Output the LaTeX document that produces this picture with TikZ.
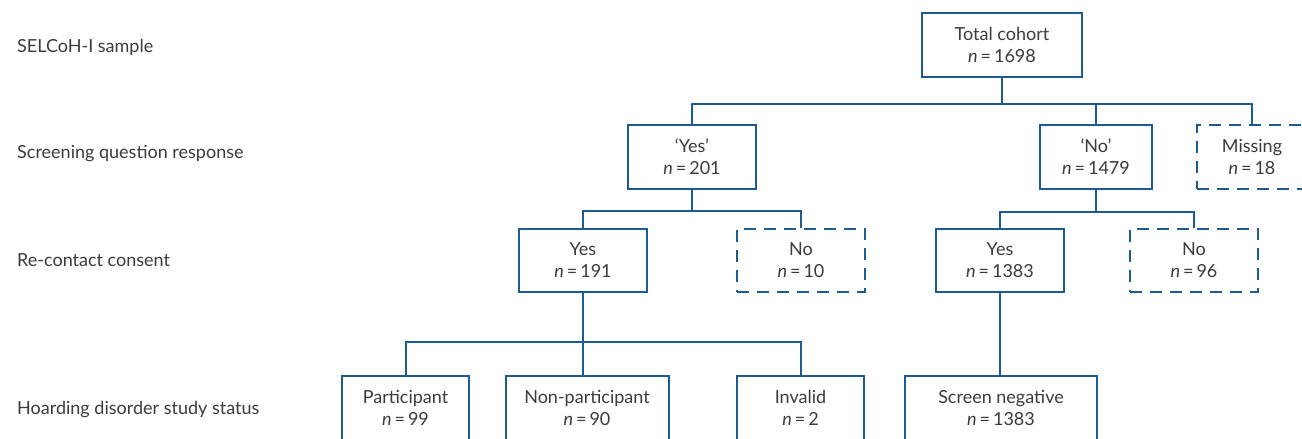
\documentclass[tikz,border=0pt]{standalone}
\usepackage{fontspec}
\setmainfont{Lato}
\definecolor{boxblue}{RGB}{28,92,146}
\definecolor{txtgray}{RGB}{60,60,60}
\begin{document}
\begin{tikzpicture}[x=1pt,y=-1pt,
  every node/.style={font=\fontsize{18}{22}\selectfont, text=txtgray},
  box/.style={draw=boxblue, line width=2pt, align=center, inner sep=0pt, minimum height=64pt},
  dbox/.style={box, dash pattern=on 12pt off 8pt},
  conn/.style={draw=boxblue, line width=2pt},
  lab/.style={anchor=west, inner sep=0pt}]
\clip (0,0) rectangle (1302,439);
\fill[white] (0,0) rectangle (1302,439);
% row labels
\node[lab] (l1) at (17,47) {SELCoH-I sample};
\node[lab] (l2) at (17,154) {Screening question response};
\node[lab] (l3) at (17,260) {Re-contact consent};
\node[lab] (l4) at (17,410) {Hoarding disorder study status};
% boxes
\node[box, minimum width=160pt] (total) at (1002,45) {Total cohort\\\textit{n}\,=\,1698};
\node[box, minimum width=128pt] (yesQ) at (692,157) {‘Yes’\\\textit{n}\,=\,201};
\node[box, minimum width=112pt] (noQ) at (1096,157) {‘No’\\\textit{n}\,=\,1479};
\node[dbox, minimum width=110pt] (miss) at (1252,157) {Missing\\\textit{n}\,=\,18};
\node[box, minimum width=128pt, minimum height=63pt] (yes191) at (583,260.5) {Yes\\\textit{n}\,=\,191};
\node[dbox, minimum width=128pt, minimum height=63pt] (no10) at (801,260.5) {No\\\textit{n}\,=\,10};
\node[box, minimum width=128pt, minimum height=63pt] (yes1383) at (1000,260.5) {Yes\\\textit{n}\,=\,1383};
\node[dbox, minimum width=128pt, minimum height=63pt] (no96) at (1194,260.5) {No\\\textit{n}\,=\,96};
\node[box, minimum width=127pt] (part) at (405.5,408) {Participant\\\textit{n}\,=\,99};
\node[box, minimum width=163pt] (nonpart) at (587,408) {Non-participant\\\textit{n}\,=\,90};
\node[box, minimum width=127pt] (inval) at (800.5,408) {Invalid\\\textit{n}\,=\,2};
\node[box, minimum width=192pt] (screen) at (1001,408) {Screen negative\\\textit{n}\,=\,1383};
% bar coordinates
\coordinate (b1) at (0,104);
\coordinate (b2) at (0,211);
\coordinate (b3) at (0,212);
\coordinate (b4) at (0,342);
% connectors
\draw[conn] (total.south) -- (total.south |- b1);
\draw[conn] (yesQ.north) -- (yesQ.north |- b1) -| (miss.north);
\draw[conn] (noQ.north) -- (noQ.north |- b1);
\draw[conn] (yesQ.south) -- (yesQ.south |- b2);
\draw[conn] (yes191.north) -- (yes191.north |- b2) -| (no10.north);
\draw[conn] (noQ.south) -- (noQ.south |- b3);
\draw[conn] (yes1383.north) -- (yes1383.north |- b3) -| (no96.north);
\draw[conn] (yes191.south) -- (yes191.south |- nonpart.north);
\draw[conn] (part.north) -- (part.north |- b4) -| (inval.north);
\draw[conn] (yes1383.south) -- (yes1383.south |- screen.north);
\end{tikzpicture}
\end{document}
